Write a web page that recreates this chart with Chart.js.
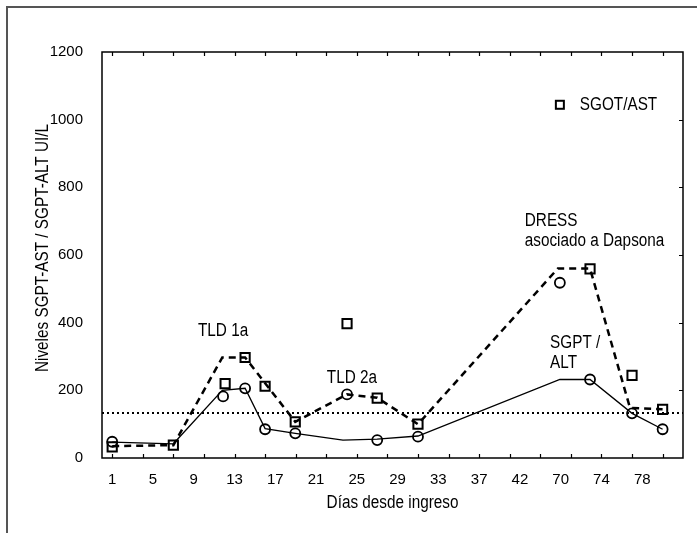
<!DOCTYPE html>
<html>
<head>
<meta charset="utf-8">
<script src="https://cdn.jsdelivr.net/npm/chart.js@4.4.1/dist/chart.umd.min.js"></script>
<style>
  html, body { margin: 0; padding: 0; background: #fff; }
</style>
</head>
<body>
<canvas id="liverChart" width="697" height="533"></canvas>
<script>
const FONT = '"Liberation Sans", Arial, sans-serif';
const SQUEEZE = 0.85; // the source text is narrow and tall

// x axis: label positions 0..13 carry these day labels
const dayLabels = ['1', '5', '9', '13', '17', '21', '25', '29', '33', '37', '42', '70', '74', '78'];
const yTicks = [0, 200, 400, 600, 800, 1000, 1200];

// dashed trend line (SGOT/AST)
const astLineX = [0, 1.5, 2.7, 3.26, 4.49, 5.76, 6.5, 7.5, 10.93, 11.72, 12.7, 13.5];
const astLineY = [35, 38, 297, 297, 107, 188, 178, 100, 560, 560, 148, 144];

// solid trend line (SGPT/ALT)
const altLineX = [0, 1.5, 2.7, 3.26, 3.75, 4.49, 5.66, 6.5, 7.5, 10.98, 11.72, 12.75, 13.5];
const altLineY = [47, 42, 200, 206, 87, 73, 53, 56, 65, 232, 232, 132, 85];

// square markers
const squareX = [0, 1.5, 2.77, 3.26, 3.75, 4.49, 5.76, 6.5, 7.5, 11.72, 12.75, 13.5];
const squareY = [33, 38, 220, 297, 212, 107, 397, 177, 100, 559, 244, 144];

// circle markers
const circleX = [0, 2.72, 3.26, 3.75, 4.49, 5.76, 6.5, 7.5, 10.98, 11.72, 12.75, 13.5];
const circleY = [48, 182, 206, 85, 73, 188, 53, 63, 518, 232, 132, 85];

// upper normal limit (dotted)
const limitValue = 133;
const xMin = -0.25;
const xMax = 14;

function toPoints(xs, ys) {
    return xs.map((x, i) => ({ x: x, y: ys[i] }));
}

// text notes placed in data units
const notes = [
    { text: 'TLD 1a', x: 2.72, y: 362, align: 'center' },
    { text: 'TLD 2a', x: 5.88, y: 221, align: 'center' },
    { text: 'DRESS', x: 10.12, y: 685, align: 'left' },
    { text: 'asociado a Dapsona', x: 10.12, y: 626, align: 'left' },
    { text: 'SGPT /', x: 10.74, y: 324, align: 'left' },
    { text: 'ALT', x: 10.74, y: 265, align: 'left' },
];

// draws narrow text at (x, y)
function narrowText(ctx, text, x, y, align) {
    ctx.save();
    ctx.translate(x, y);
    ctx.scale(SQUEEZE, 1);
    ctx.textAlign = align;
    ctx.fillText(text, 0, 0);
    ctx.restore();
}

const decor = {
    id: 'decor',
    afterDraw(chart) {
        const ctx = chart.ctx;
        const a = chart.chartArea;
        const xs = chart.scales.x;
        const ys = chart.scales.y;
        ctx.save();

        // outer picture frame
        ctx.strokeStyle = '#555';
        ctx.lineWidth = 2;
        ctx.beginPath();
        ctx.moveTo(7, 533);
        ctx.lineTo(7, 7);
        ctx.lineTo(697, 7);
        ctx.stroke();

        // plot frame
        ctx.strokeStyle = '#000';
        ctx.lineWidth = 1.5;
        ctx.strokeRect(a.left, a.top, a.right - a.left, a.bottom - a.top);

        // inner tick marks
        ctx.lineWidth = 1.2;
        ctx.beginPath();
        for (let i = 0; i < 19; i++) {
            const px = Math.round(xs.getPixelForValue(i * 0.75)) + 0.5;
            ctx.moveTo(px, a.bottom);
            ctx.lineTo(px, a.bottom - 4);
            ctx.moveTo(px, a.top);
            ctx.lineTo(px, a.top + 4);
        }
        yTicks.slice(1, -1).forEach(v => {
            const py = Math.round(ys.getPixelForValue(v)) + 0.5;
            ctx.moveTo(a.right, py);
            ctx.lineTo(a.right - 4, py);
        });
        ctx.stroke();

        // notes
        ctx.fillStyle = '#000';
        ctx.font = '18px ' + FONT;
        ctx.textBaseline = 'alphabetic';
        notes.forEach(n => {
            narrowText(ctx, n.text, xs.getPixelForValue(n.x), ys.getPixelForValue(n.y), n.align);
        });

        // legend box
        const lx = xs.getPixelForValue(10.98);
        const ly = ys.getPixelForValue(1044);
        ctx.lineWidth = 2;
        ctx.strokeRect(lx - 4, ly - 4, 8, 8);
        ctx.textBaseline = 'middle';
        narrowText(ctx, 'SGOT/AST', xs.getPixelForValue(11.47), ly, 'left');

        // axis titles
        ctx.textBaseline = 'alphabetic';
        narrowText(ctx, 'Días desde ingreso', (a.left + a.right) / 2, 508, 'center');
        ctx.translate(48, 248);
        ctx.rotate(-Math.PI / 2);
        narrowText(ctx, 'Niveles SGPT-AST / SGPT-ALT UI/L', 0, 0, 'center');

        ctx.restore();
    }
};

new Chart(document.getElementById('liverChart'), {
    type: 'scatter',
    data: {
        datasets: [
            {
                label: 'Límite',
                data: [{ x: xMin, y: limitValue }, { x: xMax, y: limitValue }],
                showLine: true,
                borderColor: '#000',
                borderWidth: 2,
                borderDash: [2, 3],
                pointRadius: 0,
            },
            {
                label: 'SGOT/AST tendencia',
                data: toPoints(astLineX, astLineY),
                showLine: true,
                borderColor: '#000',
                borderWidth: 2.5,
                borderDash: [7, 5],
                pointRadius: 0,
            },
            {
                label: 'SGPT/ALT tendencia',
                data: toPoints(altLineX, altLineY),
                showLine: true,
                borderColor: '#000',
                borderWidth: 1.3,
                pointRadius: 0,
            },
            {
                label: 'SGOT/AST',
                data: toPoints(squareX, squareY),
                pointStyle: 'rect',
                pointRadius: 6.5,
                pointBorderWidth: 2,
                pointBorderColor: '#000',
                pointBackgroundColor: 'rgba(0,0,0,0)',
            },
            {
                label: 'SGPT/ALT',
                data: toPoints(circleX, circleY),
                pointStyle: 'circle',
                pointRadius: 5,
                pointBorderWidth: 1.8,
                pointBorderColor: '#000',
                pointBackgroundColor: 'rgba(0,0,0,0)',
            },
        ]
    },
    options: {
        responsive: false,
        animation: false,
        layout: { padding: { left: 0, top: 52, right: 14, bottom: 0 } },
        plugins: { legend: { display: false }, tooltip: { enabled: false } },
        scales: {
            x: {
                type: 'linear',
                min: xMin,
                max: xMax,
                afterFit: (s) => { s.height = 75; },
                afterBuildTicks: (s) => { s.ticks = dayLabels.map((_, i) => ({ value: i })); },
                grid: { display: false },
                border: { display: false },
                ticks: {
                    autoSkip: false,
                    maxRotation: 0,
                    padding: 5,
                    color: '#000',
                    font: { family: FONT, size: 15 },
                    callback: (v) => dayLabels[v],
                },
            },
            y: {
                min: 0,
                max: 1200,
                afterFit: (s) => { s.width = 102; },
                afterBuildTicks: (s) => { s.ticks = yTicks.map(v => ({ value: v })); },
                grid: { display: false },
                border: { display: false },
                ticks: {
                    padding: 11,
                    color: '#000',
                    font: { family: FONT, size: 15 },
                    callback: (v) => String(v),
                },
            },
        },
    },
    plugins: [decor],
});
</script>
</body>
</html>
